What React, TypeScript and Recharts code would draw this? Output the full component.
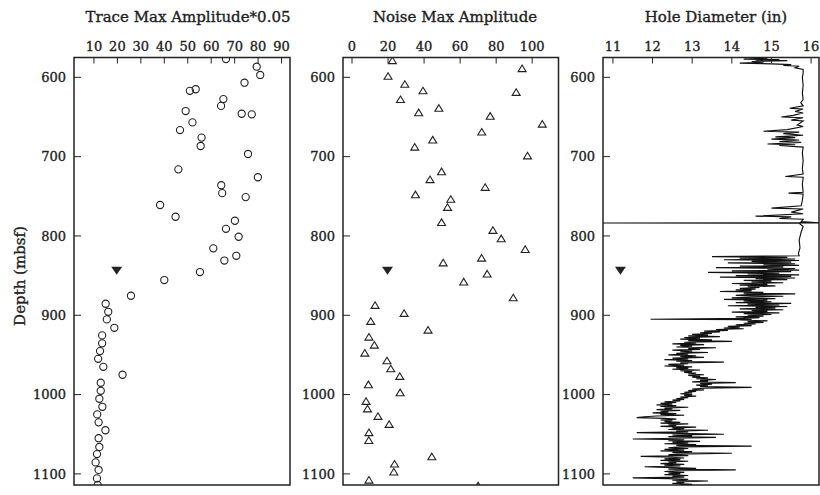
import { ReferenceArea, Scatter, ScatterChart, XAxis, YAxis } from "recharts";

const INK = "#222";
const FONT = "'DejaVu Serif', serif";

const DEPTH_TICKS = [600, 700, 800, 900, 1000, 1100];
const DEPTH_DOMAIN = [575, 1114];

const TRACE_TICKS = [10, 20, 30, 40, 50, 60, 70, 80, 90];
const NOISE_TICKS = [0, 20, 40, 60, 80, 100];
const HOLE_TICKS = [11, 12, 13, 14, 15, 16];

// trace max amplitude * 0.05 vs depth
const traceDepth = [
  577, 586.6, 597, 606.8, 615, 617, 627.4, 636, 642.5, 645.9, 646.7, 656.8, 666.5, 676, 686.6, 696.7,
  716, 726, 736, 746, 751, 761, 775.8, 780.8, 791, 801, 815.6, 825, 831, 845.5, 855.6, 875.4, 885.5,
  895.6, 905.2, 915.8, 925.4, 935.4, 945.2, 954.9, 965, 975, 985.1, 995.2, 1005.3, 1015.4, 1025, 1035,
  1045, 1055, 1066, 1075, 1085.5, 1095, 1105.7, 1114,
];
const traceAmp = [
  66.3, 79.4, 80.9, 74.2, 53.4, 50.9, 65.2, 64.2, 49.1, 73, 77.3, 52, 46.7, 55.9, 55.5, 75.7,
  46, 79.9, 64.3, 64.7, 74.7, 38.2, 44.8, 70.1, 66.3, 71.7, 60.9, 70.7, 65.6, 55.2, 40, 25.8, 15,
  16.1, 15.5, 18.7, 13.5, 13.5, 12.6, 11.8, 14, 22.2, 12.9, 12.9, 12.3, 13.6, 11.4, 12,
  14.9, 12, 12.3, 11.3, 10.7, 12, 11.3, 11.6,
];

// noise max amplitude vs depth
const noiseDepth = [
  579, 589, 598.7, 608.8, 617, 619, 628, 639, 644.6, 649, 659, 669, 679, 688, 699, 719, 729, 738.7,
  748, 753.8, 764, 783, 793, 803.5, 817, 828, 834, 848, 858, 878, 887.5, 897.6, 907.7, 918.7, 927.5,
  937.6, 947.7, 957.4, 967.5, 977, 987.6, 997.7, 1008.6, 1018, 1027.5, 1037.6, 1048, 1057.8, 1078.4,
  1087.6, 1097.7, 1107.8, 1115,
];
const noiseAmp = [
  22.4, 94.4, 20, 29.3, 39.4, 91.1, 26.9, 48.2, 37, 76.7, 105.6, 72, 44.8, 34.8, 97.4, 49.7, 43.3, 73.9,
  35.2, 54.8, 53, 49.7, 78.2, 82.8, 96.1, 71.9, 50.6, 75, 62, 89.5, 12.8, 28.9, 10.4, 42.2, 9.4,
  12.4, 7.1, 19.4, 21.5, 26.5, 9.1, 26.7, 7.8, 8.6, 14.4, 20.6, 9.4, 9.3, 44.3,
  23.6, 23.2, 9.4, 70,
];

// filled marker (same depth in every panel)
const markerDepth = 844;
const traceMarker = 19.7;
const noiseMarker = 19.7;
const holeMarker = 11.19;

// hole diameter log, [depth, diameter]
const holeTop: [number, number][] = [
  [576, 14.9], [577, 14.3], [577.5, 15.2], [578, 14.6], [579, 15.4], [580, 14.5], [581, 14.8],
  [582, 14.2], [583, 15.0], [584, 15.5], [585, 15.3], [586, 15.7], [588, 15.6], [590, 15.8],
];
const holeUpper: [number, number][] = [
  [595, 15.8], [600, 15.78], [610, 15.8], [620, 15.78], [628, 15.8], [632, 15.74], [636, 15.8],
  [639, 15.46], [640, 15.8], [643, 15.6], [645, 15.8], [648, 15.55], [650, 15.25], [651, 15.8],
  [654, 15.5], [655, 15.8], [660, 15.65], [662, 15.8], [666, 15.4], [668, 14.8], [669, 15.7],
  [671, 15.3], [673, 15.8], [675, 15.1], [676, 15.6], [678, 15.0], [679, 15.7], [681, 15.2],
  [682, 15.75], [684, 14.9], [685, 15.6], [686, 15.2], [688, 15.8], [695, 15.78], [705, 15.8],
  [715, 15.78], [722, 15.8], [725, 15.35], [726, 15.8], [735, 15.78], [745, 15.8], [746, 15.43],
  [747, 15.8], [755, 15.78], [762, 15.75], [765, 15.0], [766, 15.8], [770, 15.5], [772, 15.8],
  [775, 14.6], [776, 15.5], [778, 15.2], [779, 15.8], [782, 15.75], [783.5, 16.2], [783.7, 10.75],
  [784, 15.7], [788, 15.8], [795, 15.75], [805, 15.7], [815, 15.72], [822, 15.68],
];
const holeMiddle: [number, number][] = [
  [825, 15.7], [826, 13.5], [827, 15.4], [828, 14.2], [829, 15.6], [830, 13.8], [831, 15.7],
  [832, 14.5], [833, 15.5], [834, 13.9], [835, 15.6], [836, 14.8], [837, 15.7], [838, 14.2],
  [839, 15.3], [840, 13.6], [841, 15.6], [842, 14.9], [843, 15.7], [844, 14.0], [845, 15.5],
  [846, 13.4], [847, 15.2], [848, 14.4], [849, 15.7], [850, 14.1], [851, 15.5], [852, 13.7],
  [853, 15.6], [854, 14.6], [855, 15.4], [856, 14.3], [857, 15.0], [858, 14.5], [859, 15.3],
  [860, 14.0], [861, 14.9], [862, 14.2], [863, 15.1], [864, 14.4], [865, 14.7], [866, 14.2],
  [867, 14.6], [868, 14.1], [869, 14.5], [870, 13.7], [871, 14.8], [872, 14.3], [873, 15.6],
  [874, 14.4], [875, 14.1], [876, 15.3], [877, 14.5], [878, 14.0], [879, 15.1], [880, 13.8],
  [881, 14.9], [882, 14.3], [883, 15.0], [884, 14.1], [885, 15.5], [886, 14.4], [887, 15.2],
  [888, 13.9], [889, 15.4], [890, 14.6], [891, 15.1], [892, 14.2], [893, 15.3], [894, 14.5],
  [895, 14.9], [896, 14.0], [897, 15.2], [898, 14.3], [899, 15.0], [900, 14.4], [901, 14.8],
  [902, 14.1], [903, 14.7], [904, 14.3], [905, 11.95], [905.5, 14.5], [906, 14.2], [907, 14.9],
  [908, 14.4], [909, 14.8], [910, 14.3], [911, 14.6], [912, 14.1], [913, 14.5], [914, 13.9],
  [915, 14.2], [916, 13.8], [917, 14.3], [918, 13.6], [919, 13.9], [920, 13.3], [921, 13.7],
  [922, 13.2], [923, 13.5], [924, 13.0], [925, 13.4], [926, 12.9], [927, 13.7], [928, 12.8],
  [929, 13.2], [930, 12.7], [931, 13.5], [932, 12.9], [933, 14.0], [934, 12.8], [935, 13.1],
  [936, 12.5], [937, 13.3], [938, 12.7], [939, 13.0], [940, 12.6], [941, 13.6], [942, 12.9],
  [943, 13.2], [944, 12.5], [945, 13.0], [946, 12.7], [947, 13.4], [948, 12.6], [949, 12.9],
  [950, 12.4], [951, 13.1], [952, 12.7], [953, 13.3], [954, 12.5], [955, 12.9], [956, 12.3],
  [957, 13.0], [958, 12.6], [959, 13.8], [960, 12.7], [961, 12.9], [962, 12.4], [963, 12.8],
  [964, 12.3], [965, 13.0], [966, 12.6], [967, 12.9], [968, 12.5], [969, 13.2], [970, 12.7],
  [971, 13.0], [972, 12.8], [973, 13.1], [974, 12.9], [975, 13.3], [976, 12.9], [977, 13.2],
  [978, 13.0], [979, 13.4], [980, 13.1], [981, 13.6], [982, 13.2], [983, 13.4], [984, 13.0],
  [985, 14.1], [986, 13.2], [987, 13.5], [988, 13.1], [989, 13.4], [990, 13.2], [991, 14.5],
  [992, 13.3], [993, 13.0], [994, 13.3], [995, 12.9], [996, 13.1], [997, 12.8], [998, 13.0],
  [999, 12.7], [1000, 13.0],
];
const holeLower: [number, number][] = [
  [1001, 12.8], [1002, 13.1], [1003, 12.7], [1004, 12.9], [1005, 12.6], [1006, 12.8], [1007, 12.5],
  [1008, 12.7], [1009, 12.3], [1010, 12.6], [1011, 12.2], [1012, 12.5], [1013, 12.1], [1014, 12.6],
  [1015, 12.2], [1016, 12.9], [1017, 12.3], [1018, 12.5], [1019, 12.1], [1020, 12.7], [1021, 12.2],
  [1022, 12.4], [1023, 12.0], [1024, 12.6], [1025, 12.2], [1026, 12.8], [1027, 12.1], [1028, 11.8],
  [1029, 11.6], [1030, 12.3], [1031, 12.6], [1032, 12.2], [1033, 12.5], [1034, 12.3], [1035, 12.7],
  [1036, 12.2], [1037, 12.9], [1038, 12.4], [1039, 12.6], [1040, 12.2], [1041, 13.1], [1042, 12.5],
  [1043, 12.8], [1044, 12.4], [1045, 13.4], [1046, 12.6], [1047, 12.9], [1048, 11.6], [1049, 12.7],
  [1050, 13.8], [1051, 12.5], [1052, 13.0], [1053, 12.4], [1054, 13.6], [1055, 12.6], [1056, 11.5],
  [1057, 12.8], [1058, 12.4], [1059, 13.2], [1060, 12.5], [1061, 12.9], [1062, 12.3], [1063, 13.1],
  [1064, 12.6], [1065, 14.5], [1066, 12.7], [1067, 12.4], [1068, 12.9], [1069, 12.3], [1070, 12.8],
  [1071, 12.2], [1072, 13.0], [1073, 12.5], [1074, 14.0], [1075, 12.6], [1076, 12.4], [1077, 12.9],
  [1078, 11.7], [1079, 12.5], [1080, 12.8], [1081, 12.3], [1082, 12.7], [1083, 12.2], [1084, 12.9],
  [1085, 12.4], [1086, 12.6], [1087, 12.2], [1088, 12.8], [1089, 12.3], [1090, 12.7], [1091, 11.8],
  [1092, 12.5], [1093, 13.1], [1094, 12.4], [1095, 14.1], [1096, 12.6], [1097, 12.3], [1098, 12.8],
  [1099, 12.4], [1100, 12.7], [1101, 12.3], [1102, 12.9], [1103, 12.5], [1104, 12.8], [1105, 11.5],
  [1106, 12.4], [1107, 12.9], [1108, 12.5], [1109, 13.4], [1110, 12.6], [1111, 12.8], [1112, 12.5],
  [1113, 13.0], [1114, 12.7],
];

const toPoints = (xs: number[], ys: number[]) => xs.map((x, i) => ({ x, y: ys[i] }));

const traceData = toPoints(traceAmp, traceDepth);
const noiseData = toPoints(noiseAmp, noiseDepth);
const holeData = [...holeTop, ...holeUpper, ...holeMiddle, ...holeLower].map(([d, v]) => ({ x: v, y: d }));

const labelStyle = { fontFamily: FONT, fill: INK, stroke: INK, strokeWidth: 0.35 };

const TopTick = ({ x, y, payload }: any) => (
  <g>
    <line x1={x} y1={y} x2={x} y2={y + 6} stroke={INK} strokeWidth={1} />
    <text x={x} y={y - 7} textAnchor="middle" fontSize={13} {...labelStyle}>
      {payload.value}
    </text>
  </g>
);

const LeftTick = ({ x, y, payload }: any) => (
  <g>
    <line x1={x} y1={y} x2={x + 7} y2={y} stroke={INK} strokeWidth={1} />
    <text x={x - 8} y={y} dy="0.36em" textAnchor="end" fontSize={13} {...labelStyle}>
      {payload.value}
    </text>
  </g>
);

const Circle = ({ cx, cy }: any) => <circle cx={cx} cy={cy} r={3.6} fill="none" stroke={INK} strokeWidth={1.1} />;

const Triangle = ({ cx, cy }: any) => (
  <polygon
    points={`${cx},${cy - 3.6} ${cx + 4},${cy + 3} ${cx - 4},${cy + 3}`}
    fill="none"
    stroke={INK}
    strokeWidth={1.1}
  />
);

const DownMarker = ({ cx, cy }: any) => (
  <polygon points={`${cx - 5.5},${cy - 4} ${cx + 5.5},${cy - 4} ${cx},${cy + 4}`} fill={INK} />
);

const NoShape = () => <g />;

interface PanelProps {
  left: number;
  width: number;
  yAxisWidth: number;
  marginRight: number;
  xDomain: number[];
  xTicks: number[];
  children: any;
}

const Panel = ({ left, width, yAxisWidth, marginRight, xDomain, xTicks, children }: PanelProps) => (
  <div style={{ position: "absolute", left, top: 0 }}>
    <ScatterChart width={width} height={495} margin={{ top: 0, right: marginRight, bottom: 10, left: 0 }}>
      <XAxis
        type="number"
        dataKey="x"
        orientation="top"
        height={57.5}
        domain={xDomain}
        ticks={xTicks}
        allowDataOverflow
        interval={0}
        tickLine={false}
        tickSize={0}
        tickMargin={0}
        tick={<TopTick />}
        axisLine={false}
      />
      <YAxis
        type="number"
        dataKey="y"
        reversed
        width={yAxisWidth}
        domain={DEPTH_DOMAIN}
        ticks={DEPTH_TICKS}
        allowDataOverflow
        interval={0}
        tickLine={false}
        tickSize={0}
        tickMargin={0}
        tick={<LeftTick />}
        axisLine={false}
      />
      <ReferenceArea
        x1={xDomain[0]}
        x2={xDomain[1]}
        y1={DEPTH_DOMAIN[0]}
        y2={DEPTH_DOMAIN[1]}
        fill="none"
        fillOpacity={0}
        stroke={INK}
        strokeWidth={1.5}
        strokeOpacity={1}
        ifOverflow="visible"
      />
      {children}
    </ScatterChart>
  </div>
);

const titleStyle = { fontFamily: FONT, fontSize: 15, fill: INK, stroke: INK, strokeWidth: 0.35 };

export default function App() {
  return (
    <div style={{ position: "absolute", left: 0, top: 0, width: 820, height: 495, background: "#fff" }}>
      <Panel left={0} width={300} yAxisWidth={74} marginRight={10} xDomain={[1.5, 93.6]} xTicks={TRACE_TICKS}>
        <Scatter data={traceData} shape={<Circle />} isAnimationActive={false} />
        <Scatter data={[{ x: traceMarker, y: markerDepth }]} shape={<DownMarker />} isAnimationActive={false} />
      </Panel>
      <Panel left={290} width={270} yAxisWidth={53} marginRight={1.5} xDomain={[-5, 114.6]} xTicks={NOISE_TICKS}>
        <Scatter data={noiseData} shape={<Triangle />} isAnimationActive={false} />
        <Scatter data={[{ x: noiseMarker, y: markerDepth }]} shape={<DownMarker />} isAnimationActive={false} />
      </Panel>
      <Panel left={560} width={260} yAxisWidth={43} marginRight={1} xDomain={[10.75, 16.2]} xTicks={HOLE_TICKS}>
        <Scatter
          data={holeData}
          line={{ stroke: "#111", strokeWidth: 1.15 }}
          lineType="joint"
          shape={<NoShape />}
          isAnimationActive={false}
        />
        <Scatter data={[{ x: holeMarker, y: markerDepth }]} shape={<DownMarker />} isAnimationActive={false} />
      </Panel>
      <svg width={820} height={495} style={{ position: "absolute", left: 0, top: 0, pointerEvents: "none" }}>
        <text x={188} y={21.5} textAnchor="middle" {...titleStyle}>
          Trace Max Amplitude*0.05
        </text>
        <text x={455} y={21.5} textAnchor="middle" {...titleStyle}>
          Noise Max Amplitude
        </text>
        <text x={716} y={21.5} textAnchor="middle" {...titleStyle}>
          Hole Diameter (in)
        </text>
        <text
          x={20}
          y={276}
          textAnchor="middle"
          dominantBaseline="central"
          transform="rotate(-90 20 276)"
          {...titleStyle}
        >
          Depth (mbsf)
        </text>
      </svg>
    </div>
  );
}
